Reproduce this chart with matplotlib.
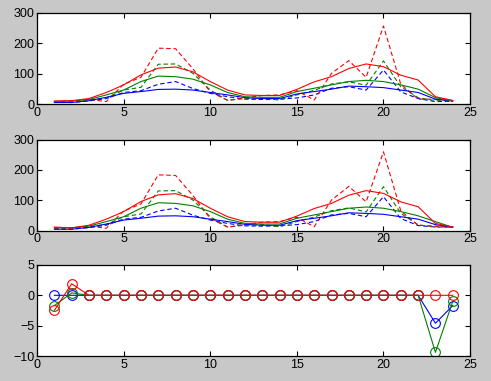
import matplotlib.pyplot as plt

# sample index shared by every panel
x = list(range(1, 25))

# panel 1 (top)
red_solid = [10, 11, 18, 38, 63, 96, 118, 122, 106, 74, 46, 30, 28, 28, 48, 73, 90, 117, 132, 123, 95, 79, 24, 12]
green_solid = [8, 10, 15, 30, 46, 74, 92, 90, 82, 63, 38, 24, 22, 22, 41, 52, 63, 74, 78, 74, 63, 49, 21, 10]
blue_solid = [5, 5, 11, 22, 35, 41, 48, 49, 46, 38, 30, 21, 18, 18, 33, 41, 49, 59, 57, 54, 46, 38, 16, 10]
red_dashed = [8, 9, 15, 8, 65, 88, 184, 182, 116, 40, 12, 20, 28, 30, 44, 13, 101, 143, 88, 257, 65, 16, 16, 11]
green_dashed = [8, 9, 14, 20, 46, 55, 131, 132, 101, 46, 12, 18, 20, 13, 30, 45, 66, 73, 62, 142, 57, 21, 11, 10]
blue_dashed = [5, 5, 10, 18, 38, 44, 65, 74, 51, 35, 24, 16, 15, 16, 20, 30, 52, 57, 46, 112, 40, 18, 8, 9]

# panel 2 (middle)
red_solid2 = [12, 9, 18, 38, 63, 96, 118, 122, 106, 74, 46, 30, 28, 28, 48, 73, 90, 117, 132, 123, 95, 79, 24, 12]
green_solid2 = [10, 10, 15, 30, 46, 74, 92, 90, 82, 63, 38, 24, 22, 22, 41, 52, 63, 74, 78, 74, 63, 49, 30, 11]
blue_solid2 = [5, 5, 11, 22, 35, 41, 48, 49, 46, 38, 30, 21, 18, 18, 33, 41, 49, 59, 57, 54, 46, 38, 20, 12]
red_dashed2 = [8, 9, 15, 8, 65, 88, 184, 182, 116, 40, 12, 20, 28, 30, 44, 13, 101, 146, 95, 260, 65, 18, 15, 12]
green_dashed2 = [8, 9, 14, 20, 46, 55, 131, 132, 101, 46, 12, 18, 20, 13, 30, 45, 66, 75, 62, 145, 57, 19, 13, 12]
blue_dashed2 = [5, 5, 10, 18, 38, 44, 65, 74, 51, 35, 24, 16, 15, 16, 20, 30, 52, 57, 46, 112, 40, 17, 12, 12]

# panel 3 (bottom) differences
diff_blue = [0, 0, 0, 0, 0, 0, 0, 0, 0, 0, 0, 0, 0, 0, 0, 0, 0, 0, 0, 0, 0, 0, -4.6, -1.7]
diff_green = [-1.7, 0.4, 0, 0, 0, 0, 0, 0, 0, 0, 0, 0, 0, 0, 0, 0, 0, 0, 0, 0, 0, 0, -9.4, -1.0]
diff_red = [-2.5, 1.9, 0, 0, 0, 0, 0, 0, 0, 0, 0, 0, 0, 0, 0, 0, 0, 0, 0, 0, 0, 0, 0, 0]

RED = '#ff0000'
GREEN = '#008000'
BLUE = '#0000ff'
BG = '#c8c8c8'

plt.rcParams['font.family'] = ['Liberation Sans', 'DejaVu Sans']
plt.rcParams['font.size'] = 9

fig = plt.figure(figsize=(4.91, 3.81), dpi=100, facecolor=BG)

def style(ax, ylim, yticks):
    ax.set_facecolor('white')
    ax.set_xlim(0, 25)
    ax.set_ylim(*ylim)
    ax.set_xticks([0, 5, 10, 15, 20, 25])
    ax.set_yticks(yticks)
    ax.tick_params(direction='in', length=3.5, width=0.8, top=True, right=True,
                   labelsize=9, pad=2, colors='black')
    for s in ax.spines.values():
        s.set_linewidth(0.9)
        s.set_color('black')

lw = 0.8
dash = (4, 2.5)
for bottom, data in [(0.727, (red_solid, green_solid, blue_solid, red_dashed, green_dashed, blue_dashed)),
                     (0.3945, (red_solid2, green_solid2, blue_solid2, red_dashed2, green_dashed2, blue_dashed2))]:
    ax = fig.add_axes([0.0754, bottom, 0.882, 0.239])
    rs, gs, bs, rd, gd, bd = data
    ax.plot(x, bd, color=BLUE, lw=lw, dashes=dash)
    ax.plot(x, gd, color=GREEN, lw=lw, dashes=dash)
    ax.plot(x, rd, color=RED, lw=lw, dashes=dash)
    ax.plot(x, bs, color=BLUE, lw=lw)
    ax.plot(x, gs, color=GREEN, lw=lw)
    ax.plot(x, rs, color=RED, lw=lw)
    style(ax, (0, 300), [0, 100, 200, 300])

ax3 = fig.add_axes([0.0754, 0.0656, 0.882, 0.239])
ax3.plot(x, diff_blue, '-o', color=BLUE, lw=lw, ms=7, mfc='none', mew=0.8)
ax3.plot(x, diff_green, '-o', color=GREEN, lw=lw, ms=7, mfc='none', mew=0.8)
ax3.plot(x, diff_red, '-o', color=RED, lw=lw, ms=7, mfc='none', mew=0.8)
style(ax3, (-10, 5), [-10, -5, 0, 5])

fig.savefig('out.png', dpi=100, facecolor=BG)
